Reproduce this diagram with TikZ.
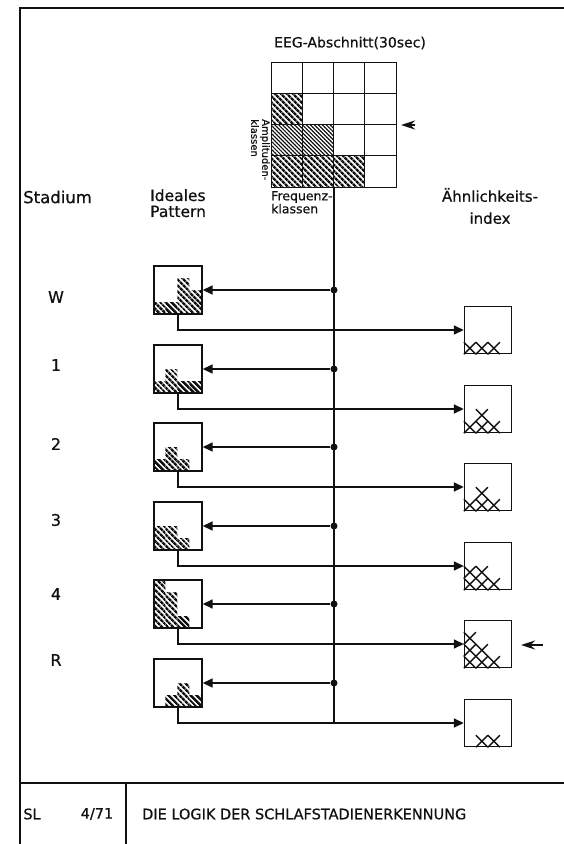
\documentclass[tikz,border=0pt]{standalone}
\usepackage{fontspec}
\setmainfont{DejaVu Sans}
\newfontfamily\slfont{DejaVu Sans}[FakeBold=0.6]
\usetikzlibrary{arrows.meta, positioning, calc, patterns.meta}
\definecolor{slInk}{HTML}{111111}
\tikzset{
  slframe/.style={draw=slInk, line width=1.5pt},
  slbox/.style={draw=slInk, line width=1.4pt, minimum size=48pt, inner sep=0pt},
  slhatch/.style={pattern={Lines[angle=-45, distance=4pt, line width=2.6pt]}, pattern color=slInk},
  sllight/.style={pattern={Lines[angle=-45, distance=2.8pt, line width=1.2pt]}, pattern color=slInk},
  slgrid/.style={draw=slInk, line width=1.3pt},
  slwire/.style={draw=slInk, line width=1.6pt},
  slarrow/.style={slwire, -{Triangle[length=10pt, width=9pt]}},
  slmark/.style={draw=slInk, line width=1.5pt, -{Stealth[length=14pt, width=9pt]}},
  sldot/.style={circle, fill=slInk, minimum size=7pt, inner sep=0pt},
  slx/.style={draw=slInk, line width=1.4pt},
  sltext/.style={text=slInk, inner sep=0pt, font=\slfont\fontsize{15.5}{16}\selectfont},
  slsmall/.style={text=slInk, inner sep=0pt, align=left, font=\slfont\fontsize{12.5}{13}\selectfont},
}
% one stage: #1 name, #2 centre y, #3-#6 pattern heights per column, #7 index cells
\newcommand{\slstage}[7]{%
  \node[slbox] (p#1) at (178,#2) {};
  \foreach \c/\h in {0/#3, 1/#4, 2/#5, 3/#6}{%
    \fill[slhatch] ($(p#1.south west)+(12*\c,0)$) rectangle ++(12,-12*\h);
  }
  \node[slbox, minimum size=47pt] (r#1) at (488,#2+40) {};
  \foreach \i/\j in {#7}{%
    \draw[slx] ($(r#1.south west)+(12*\i,-12*\j)$) -- ++(12,-12) ++(-12,0) -- ++(12,12);
  }
  \node[sldot] (d#1) at (334,#2) {};
  \draw[slarrow] (d#1) -- (p#1.east);
  \draw[slarrow] (p#1.south) |- (r#1.west);
}

\begin{document}
\begin{tikzpicture}[x=1pt, y=-1pt]
\useasboundingbox (0,0) rectangle (564,844);

% Frame -------------------------------------------------------------------
\draw[slframe] (564,8) -- (20,8) -- (20,844);
\draw[slframe] (20,783) -- (564,783);
\draw[slframe] (126,783) -- (126,844);

% EEG section -------------------------------------------------------------
\node[sltext, font=\slfont\fontsize{14}{15}\selectfont] (eegtitle) at (350,43) {EEG-Abschnitt(30sec)};
\node[minimum size=124pt, inner sep=0pt] (eeg) at (334,125) {};
\foreach \c/\r in {0/1, 0/3, 1/3, 2/3}{%
  \fill[slhatch] ($(eeg.north west)+(31*\c,31*\r)$) rectangle ++(31,31);
}
\foreach \c/\r in {0/2, 1/2}{%
  \fill[sllight] ($(eeg.north west)+(31*\c,31*\r)$) rectangle ++(31,31);
}
\foreach \k in {1,2,3}{%
  \draw[slgrid] ($(eeg.north west)+(31*\k,0)$) -- ++(0,124);
  \draw[slgrid] ($(eeg.north west)+(0,31*\k)$) -- ++(124,0);
}
\draw[slgrid] (eeg.north west) rectangle (eeg.south east);
\node[sltext, rotate=-90, anchor=north west, align=left,
  font=\slfont\fontsize{10}{11}\selectfont] (ampl) at (270,119) {Amplituden-\\klassen};
\node[slsmall, anchor=north west] (freq) at (271,191) {Frequenz-\\klassen};
\coordinate (mkA) at (415,125);
\coordinate (mkAtip) at (401,125);
\draw[slmark] (mkA) -- (mkAtip);

% Headings ----------------------------------------------------------------
\node[sltext, anchor=west, font=\slfont\fontsize{16.5}{17}\selectfont] (hstad) at (23,197) {Stadium};
\node[sltext, anchor=north west, align=left] (hpat) at (150,189) {Ideales\\Pattern};
\node[sltext, align=center, font=\slfont\fontsize{15}{22}\selectfont] (hindex) at (490,206) {Ähnlichkeits-\\index};

% Bus ---------------------------------------------------------------------
\coordinate (busend) at (334,723);
\draw[slwire] (eeg.south) -- (busend);

% Stages ------------------------------------------------------------------
\slstage{W}{290}{1}{1}{3}{2}{0/0, 1/0, 2/0}
\slstage{1}{369}{1}{2}{1}{1}{0/0, 1/0, 2/0, 1/1}
\slstage{2}{447}{1}{2}{1}{0}{0/0, 1/0, 2/0, 1/1}
\slstage{3}{526}{2}{2}{1}{0}{0/0, 1/0, 2/0, 0/1, 1/1}
\slstage{4}{604}{4}{3}{1}{0}{0/0, 1/0, 2/0, 0/1, 1/1, 0/2}
\slstage{R}{683}{0}{1}{2}{1}{1/0, 2/0}

\foreach \n/\y in {W/297, 1/365, 2/444, 3/520, 4/594, R/660}{%
  \node[sltext, font=\slfont\fontsize{16}{17}\selectfont] (s\n) at (56,\y) {\n};
}
\coordinate (mkB) at (543,645);
\coordinate (mkBtip) at (521,645);
\draw[slmark] (mkB) -- (mkBtip);

% Footer ------------------------------------------------------------------
\node[sltext, font=\slfont\fontsize{14.5}{15}\selectfont] (fsl) at (32,814) {SL};
\node[sltext, font=\slfont\fontsize{14.5}{15}\selectfont] (fno) at (97,814) {4/71};
\node[sltext, anchor=west, font=\slfont\fontsize{14.5}{15}\selectfont] (ftitle) at (142,814) {DIE LOGIK DER SCHLAFSTADIENERKENNUNG};

\end{tikzpicture}
\end{document}
